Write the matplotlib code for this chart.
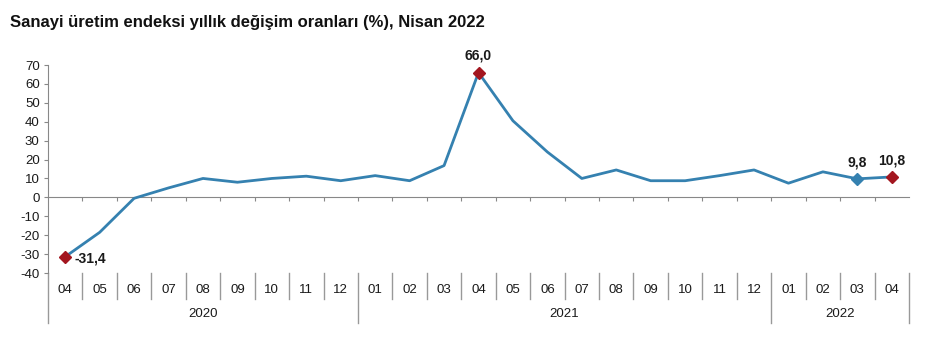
import numpy as np
import matplotlib.pyplot as plt
import matplotlib.transforms as mtransforms

plt.rcParams['font.family'] = ['Liberation Sans', 'DejaVu Sans']
plt.rcParams['axes.unicode_minus'] = False

# aylar ve yillik degisim oranlari
months = ['04', '05', '06', '07', '08', '09', '10', '11', '12',
          '01', '02', '03', '04', '05', '06', '07', '08', '09', '10', '11', '12',
          '01', '02', '03', '04']
years = ['2020', '2021', '2022']
year_counts = [9, 12, 4]
values = [-31.4, -18.5, -0.5, 5.0, 10.0, 8.0, 10.0, 11.2, 8.8,
          11.5, 8.8, 16.8, 66.0, 40.5, 24.0, 10.0, 14.5, 8.8, 8.8, 11.5, 14.5,
          7.5, 13.5, 9.8, 10.8]
labels = {0: '-31,4', 12: '66,0', 23: '9,8', 24: '10,8'}

x = np.arange(len(values))
line_color = '#3581b0'
red = '#a3161f'
gray = '#888888'
txt = '#1a1a1a'

fig = plt.figure(figsize=(9.53, 3.58), dpi=100)
ax = fig.add_axes([48 / 953, 85 / 358, 861 / 953, 208 / 358])

ax.plot(x, values, color=line_color, lw=2, zorder=3)
for i in labels:
    c = line_color if i == 23 else red
    ax.plot(x[i], values[i], marker='D', ms=6.5, color=c, zorder=4)

ax.annotate(labels[0], (x[0], values[0]), xytext=(7, -1.5), textcoords='offset points',
            ha='left', va='center', fontsize=10, fontweight='bold', color=txt)
for i in [12, 23, 24]:
    ax.annotate(labels[i], (x[i], values[i]), xytext=(0, 7), textcoords='offset points',
                ha='center', va='bottom', fontsize=10, fontweight='bold', color=txt)

ax.set_xlim(-0.5, len(values) - 0.5)
ax.set_ylim(-40, 70)
ax.set_yticks(np.arange(-40, 71, 10))
ax.tick_params(axis='y', length=3, color=gray, labelsize=9.5, labelcolor=txt, pad=3)

for s in ['top', 'right']:
    ax.spines[s].set_visible(False)
ax.spines['left'].set_color(gray)
ax.spines['bottom'].set_position(('data', 0))
ax.spines['bottom'].set_color(gray)
ax.set_xticks(x[:-1] + 0.5)
ax.set_xticklabels([])
ax.tick_params(axis='x', length=3, color=gray, direction='out')

# alt kategori ekseni
tr = mtransforms.blended_transform_factory(ax.transData, fig.transFigure)
for i, m in enumerate(months):
    ax.text(x[i], 1 - 290 / 358, m, transform=tr, ha='center', va='center',
            fontsize=9.5, color=txt, clip_on=False)

start = 0
bounds = [-0.5]
for y, n in zip(years, year_counts):
    ax.text(start + (n - 1) / 2, 1 - 314 / 358, y, transform=tr, ha='center',
            va='center', fontsize=9.5, color=txt, clip_on=False)
    start += n
    bounds.append(start - 0.5)

for i in range(len(values) + 1):
    b = i - 0.5
    y1 = 1 - 323 / 358 if b in bounds else 1 - 299 / 358
    ax.plot([b, b], [1 - 273 / 358, y1], transform=tr, color='#999999', lw=1,
            clip_on=False)
ax.plot([-0.5, -0.5], [1 - 273 / 358, 85 / 358], transform=tr, color=gray, lw=1,
        clip_on=False)

fig.text(10 / 953, 1 - 22 / 358, 'Sanayi üretim endeksi yıllık değişim oranları (%), Nisan 2022',
         ha='left', va='center', fontsize=12, fontweight='bold', color='#111111')

fig.savefig('out.png', dpi=100)
